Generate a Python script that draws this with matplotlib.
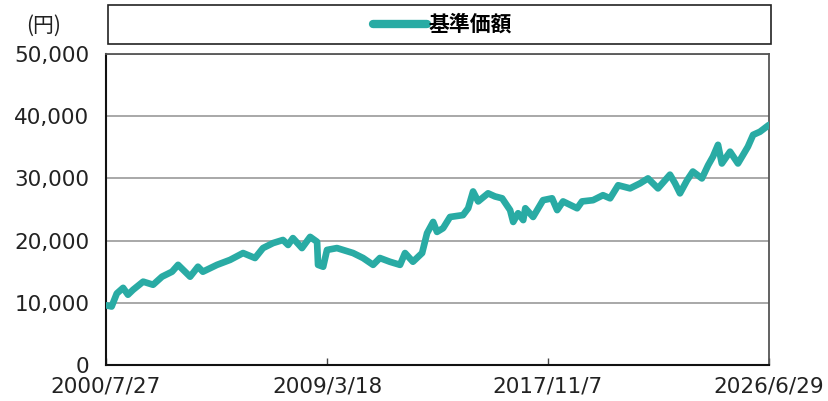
import matplotlib
matplotlib.use("Agg")
import matplotlib.pyplot as plt
from matplotlib.patches import Rectangle
from matplotlib.ticker import FuncFormatter
import pandas as pd

# 基準価額 (円)
dates = [
    "2000-07-27", "2000-10-15", "2000-12-28", "2001-03-28", "2001-06-05", "2001-08-18",
    "2002-01-08", "2002-05-30", "2002-10-05", "2003-02-25", "2003-05-22", "2003-11-10",
    "2004-03-01", "2004-05-10", "2004-11-28", "2005-06-03", "2005-12-05", "2006-05-25",
    "2006-09-16", "2007-02-06", "2007-06-28", "2007-09-09", "2007-11-17", "2008-03-25",
    "2008-07-20", "2008-10-27", "2008-11-10", "2009-01-22", "2009-03-18", "2009-08-07",
    "2010-03-25", "2010-08-15", "2011-01-05", "2011-04-12", "2011-09-01", "2012-01-25",
    "2012-04-05", "2012-07-27", "2012-12-05", "2013-02-14", "2013-05-12", "2013-07-06",
    "2013-10-01", "2014-01-08", "2014-07-12", "2014-09-24", "2014-12-03", "2015-02-14",
    "2015-07-05", "2015-10-12", "2016-01-22", "2016-05-15", "2016-06-28", "2016-09-06",
    "2016-11-18", "2016-12-18", "2017-04-08", "2017-08-28", "2018-01-04", "2018-03-18",
    "2018-06-10", "2018-12-28", "2019-03-08", "2019-08-12", "2020-01-01", "2020-04-12",
    "2020-08-05", "2021-01-22", "2021-06-13", "2021-10-05", "2022-02-25", "2022-08-15",
    "2022-10-27", "2023-01-05", "2023-04-16", "2023-07-08", "2023-11-14", "2024-02-10",
    "2024-04-20", "2024-07-01", "2024-08-25", "2024-12-20", "2025-04-12", "2025-06-25",
    "2025-09-01", "2025-11-14", "2026-02-20", "2026-06-29",
]
nav = [
    9600, 9400, 11500, 12400, 11300, 12100,
    13400, 12900, 14200, 15000, 16100, 14200,
    15800, 15000, 16100, 16900, 18000, 17200,
    18800, 19600, 20100, 19300, 20400, 18800,
    20600, 19800, 16100, 15800, 18500, 18800,
    18000, 17200, 16100, 17200, 16600, 16100,
    18000, 16600, 18000, 21200, 23000, 21400,
    22000, 23800, 24100, 25200, 27900, 26300,
    27600, 27100, 26800, 24900, 23000, 24400,
    23300, 25200, 23800, 26500, 26800, 24900,
    26300, 25200, 26300, 26500, 27300, 26800,
    28900, 28400, 29200, 30000, 28400, 30600,
    29200, 27600, 29700, 31100, 30000, 32100,
    33500, 35400, 32400, 34300, 32400, 33800,
    35100, 37000, 37500, 38600,
]
x_ticks = ["2000-07-27", "2009-03-18", "2017-11-07", "2026-06-29"]
y_ticks = [0, 10000, 20000, 30000, 40000, 50000]

TEAL = "#29aba4"
CJK = ["Noto Sans CJK JP", "DejaVu Sans"]

fig = plt.figure(figsize=(8.29, 4.01), dpi=100)
ax = fig.add_axes([0.1279, 0.0898, 0.7997, 0.7755])

xs = pd.to_datetime(dates)
line, = ax.plot(xs, nav, color=TEAL, lw=4.8, solid_joinstyle="round",
                solid_capstyle="round", label="基準価額", zorder=3)

ax.set_xlim(pd.Timestamp(x_ticks[0]), pd.Timestamp(x_ticks[-1]))
ax.set_ylim(0, 50000)
ax.set_yticks(y_ticks)
ax.yaxis.set_major_formatter(FuncFormatter(lambda v, p: f"{int(v):,}"))
xt = pd.to_datetime(x_ticks)
ax.set_xticks(xt)
ax.set_xticklabels([f"{d.year}/{d.month}/{d.day}" for d in xt])

ax.grid(axis="y", color="#999999", lw=1.2, zorder=1)
ax.tick_params(axis="y", length=0, pad=12, labelsize=15.5, labelcolor="#222222")
ax.tick_params(axis="x", direction="in", length=5, width=1, color="#444444",
               pad=8, labelsize=15.5, labelcolor="#222222")
for s in ("left", "bottom"):
    ax.spines[s].set_color("#111111")
    ax.spines[s].set_linewidth(1.5)
for s in ("top", "right"):
    ax.spines[s].set_color("#555555")
    ax.spines[s].set_linewidth(1.3)

# unit label
fig.text(0.053, 0.935, "(円)", ha="center", va="center", fontsize=15,
         family=CJK, color="#222222")

# legend box across the top
fig.patches.append(Rectangle((0.1303, 0.8903), 0.7997, 0.0973, transform=fig.transFigure,
                             fill=False, ec="#222222", lw=1.2))
leg = fig.legend(handles=[line], loc="center", bbox_to_anchor=(0.534, 0.939),
                 frameon=False, handlelength=2.6, handletextpad=0.1,
                 prop={"family": CJK, "size": 15, "weight": "bold"})
leg.get_lines()[0].set_linewidth(6)

fig.savefig("out.png", dpi=100)
